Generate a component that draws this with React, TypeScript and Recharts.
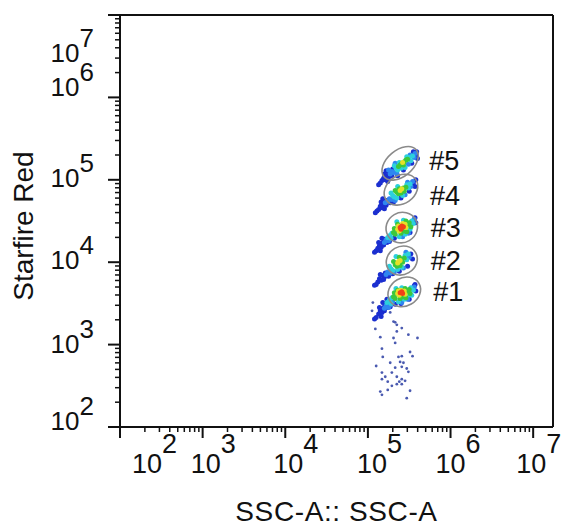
import { ScatterChart, Scatter, XAxis, YAxis, ReferenceLine } from 'recharts';

// all coordinates are log10 of the channel value (10^2 .. 10^7)
type Cell = [number, number, number]; // [x, y, density level 0..5]

const gate1Cells: Cell[] = [
  [5.39, 3.63, 5], [5.41, 3.64, 5], [5.42, 3.62, 5],
  [5.36, 3.62, 4], [5.38, 3.6, 4], [5.44, 3.65, 4], [5.4, 3.66, 4], [5.45, 3.61, 4], [5.37, 3.65, 4],
  [5.31, 3.58, 3], [5.33, 3.56, 3], [5.34, 3.61, 3], [5.47, 3.64, 3], [5.5, 3.67, 3], [5.43, 3.58, 3],
  [5.46, 3.57, 3], [5.32, 3.63, 3], [5.39, 3.56, 3], [5.51, 3.62, 3], [5.36, 3.66, 3], [5.45, 3.68, 3],
  [5.26, 3.54, 2], [5.28, 3.5, 2], [5.29, 3.57, 2], [5.52, 3.69, 2], [5.55, 3.66, 2], [5.37, 3.52, 2],
  [5.44, 3.55, 2], [5.49, 3.6, 2], [5.34, 3.68, 2], [5.23, 3.51, 2], [5.53, 3.6, 2], [5.41, 3.69, 2],
  [5.22, 3.47, 1], [5.25, 3.45, 1], [5.2, 3.44, 1], [5.27, 3.48, 1], [5.3, 3.52, 1], [5.56, 3.7, 1],
  [5.48, 3.55, 1], [5.41, 3.51, 1],
  [5.13, 3.37, 0], [5.15, 3.41, 0], [5.17, 3.39, 0], [5.19, 3.45, 0], [5.21, 3.48, 0], [5.2, 3.41, 0],
  [5.24, 3.45, 0], [5.1, 3.33, 0], [5.14, 3.45, 0], [5.18, 3.51, 0], [5.27, 3.46, 0], [5.33, 3.49, 0],
  [5.56, 3.71, 0], [5.58, 3.65, 0], [5.5, 3.55, 0], [5.4, 3.5, 0], [5.08, 3.31, 0], [5.16, 3.34, 0],
  [5.57, 3.73, 0], [5.23, 3.55, 0],
];

const gate2Cells: Cell[] = [
  [5.37, 4.01, 4], [5.39, 4.02, 4], [5.36, 3.99, 4],
  [5.33, 3.97, 3], [5.35, 3.95, 3], [5.4, 4.04, 3], [5.42, 4.0, 3], [5.38, 4.06, 3], [5.31, 4.01, 3],
  [5.44, 4.05, 3], [5.39, 3.96, 3],
  [5.28, 3.92, 2], [5.3, 3.9, 2], [5.45, 4.08, 2], [5.47, 4.03, 2], [5.34, 4.07, 2], [5.41, 3.94, 2],
  [5.26, 3.95, 2], [5.49, 4.1, 2], [5.36, 3.91, 2],
  [5.24, 3.88, 1], [5.22, 3.85, 1], [5.27, 3.87, 1], [5.5, 4.06, 1], [5.43, 3.93, 1], [5.32, 3.88, 1],
  [5.46, 4.12, 1],
  [5.12, 3.76, 0], [5.14, 3.8, 0], [5.16, 3.78, 0], [5.18, 3.84, 0], [5.2, 3.82, 0], [5.21, 3.87, 0],
  [5.1, 3.73, 0], [5.15, 3.85, 0], [5.25, 3.83, 0], [5.3, 3.86, 0], [5.52, 4.1, 0], [5.54, 4.04, 0],
  [5.48, 3.95, 0], [5.38, 3.89, 0], [5.08, 3.72, 0], [5.19, 3.79, 0],
];

const gate3Cells: Cell[] = [
  [5.39, 4.42, 5], [5.41, 4.44, 5], [5.43, 4.43, 5], [5.4, 4.4, 5],
  [5.36, 4.4, 4], [5.38, 4.38, 4], [5.45, 4.46, 4], [5.42, 4.47, 4], [5.46, 4.42, 4], [5.37, 4.44, 4],
  [5.31, 4.36, 3], [5.33, 4.34, 3], [5.34, 4.39, 3], [5.48, 4.45, 3], [5.5, 4.48, 3], [5.44, 4.38, 3],
  [5.47, 4.37, 3], [5.32, 4.41, 3], [5.4, 4.35, 3], [5.52, 4.43, 3], [5.36, 4.46, 3], [5.46, 4.5, 3],
  [5.26, 4.32, 2], [5.28, 4.29, 2], [5.29, 4.35, 2], [5.53, 4.5, 2], [5.55, 4.47, 2], [5.38, 4.31, 2],
  [5.45, 4.34, 2], [5.51, 4.4, 2], [5.35, 4.49, 2], [5.24, 4.3, 2], [5.43, 4.51, 2],
  [5.22, 4.27, 1], [5.2, 4.24, 1], [5.25, 4.26, 1], [5.27, 4.31, 1], [5.56, 4.52, 1], [5.49, 4.35, 1],
  [5.42, 4.31, 1],
  [5.12, 4.17, 0], [5.14, 4.2, 0], [5.16, 4.18, 0], [5.18, 4.24, 0], [5.2, 4.28, 0], [5.19, 4.21, 0],
  [5.23, 4.24, 0], [5.1, 4.14, 0], [5.13, 4.24, 0], [5.17, 4.29, 0], [5.26, 4.25, 0], [5.32, 4.29, 0],
  [5.57, 4.54, 0], [5.58, 4.48, 0], [5.51, 4.36, 0], [5.08, 4.12, 0], [5.15, 4.14, 0],
];

const gate4Cells: Cell[] = [
  [5.39, 4.87, 4], [5.41, 4.89, 4],
  [5.35, 4.85, 3], [5.37, 4.83, 3], [5.4, 4.84, 3], [5.43, 4.9, 3], [5.38, 4.89, 3], [5.44, 4.86, 3],
  [5.33, 4.87, 3], [5.46, 4.91, 3],
  [5.3, 4.81, 2], [5.32, 4.79, 2], [5.47, 4.94, 2], [5.49, 4.9, 2], [5.36, 4.92, 2], [5.42, 4.81, 2],
  [5.28, 4.84, 2], [5.51, 4.95, 2], [5.35, 4.78, 2],
  [5.26, 4.77, 1], [5.24, 4.74, 1], [5.29, 4.76, 1], [5.52, 4.92, 1], [5.45, 4.82, 1], [5.33, 4.75, 1],
  [5.48, 4.97, 1], [5.54, 4.98, 1], [5.21, 4.72, 1],
  [5.13, 4.64, 0], [5.15, 4.68, 0], [5.17, 4.66, 0], [5.19, 4.71, 0], [5.22, 4.69, 0], [5.23, 4.75, 0],
  [5.11, 4.62, 0], [5.16, 4.73, 0], [5.27, 4.72, 0], [5.31, 4.73, 0], [5.55, 4.96, 0], [5.57, 4.92, 0],
  [5.5, 4.86, 0], [5.4, 4.78, 0], [5.09, 4.6, 0], [5.2, 4.65, 0], [5.18, 4.77, 0], [5.58, 5.0, 0],
];

const gate5Cells: Cell[] = [
  [5.42, 5.21, 4],
  [5.39, 5.18, 3], [5.41, 5.2, 3], [5.44, 5.22, 3], [5.37, 5.16, 3], [5.46, 5.24, 3], [5.43, 5.18, 3],
  [5.48, 5.25, 3],
  [5.34, 5.14, 2], [5.36, 5.12, 2], [5.5, 5.27, 2], [5.52, 5.23, 2], [5.38, 5.21, 2], [5.45, 5.15, 2],
  [5.32, 5.17, 2], [5.54, 5.29, 2], [5.4, 5.14, 2], [5.47, 5.28, 2],
  [5.29, 5.1, 1], [5.27, 5.07, 1], [5.31, 5.09, 1], [5.56, 5.27, 1], [5.49, 5.19, 1], [5.35, 5.08, 1],
  [5.51, 5.3, 1], [5.57, 5.32, 1], [5.25, 5.12, 1], [5.33, 5.2, 1],
  [5.17, 4.99, 0], [5.19, 5.02, 0], [5.21, 5.0, 0], [5.23, 5.05, 0], [5.25, 5.03, 0], [5.26, 5.09, 0],
  [5.15, 4.96, 0], [5.2, 5.07, 0], [5.29, 5.05, 0], [5.3, 5.13, 0], [5.58, 5.3, 0], [5.6, 5.26, 0],
  [5.53, 5.2, 0], [5.43, 5.12, 0], [5.13, 4.94, 0], [5.24, 4.98, 0], [5.22, 5.11, 0], [5.59, 5.34, 0],
  [5.55, 5.34, 0], [5.36, 5.05, 0],
];

// sparse events below the gated populations
const debrisCells: [number, number][] = [
  [5.12, 3.76], [5.05, 3.41], [5.06, 3.51], [5.21, 3.45], [5.27, 3.39], [5.31, 3.28], [5.35, 3.24],
  [5.41, 3.2], [5.35, 3.16], [5.15, 3.09],
  [5.33, 3.27], [5.09, 3.19], [5.31, 3.08], [5.49, 3.12], [5.6, 3.08], [5.33, 3.02], [5.17, 2.95],
  [5.51, 2.91], [5.18, 2.85], [5.37, 2.85], [5.41, 2.86], [5.54, 2.86], [5.1, 2.74], [5.27, 2.78],
  [5.39, 2.79], [5.43, 2.78], [5.41, 2.73], [5.33, 2.72], [5.47, 2.71], [5.49, 2.67], [5.17, 2.66],
  [5.29, 2.66], [5.21, 2.61], [5.35, 2.61], [5.41, 2.58], [5.38, 2.55], [5.45, 2.56], [5.24, 2.55],
  [5.35, 2.52], [5.17, 2.58], [5.41, 2.52], [5.29, 2.5], [5.24, 2.45], [5.51, 2.44], [5.15, 2.43],
  [5.17, 2.39], [5.47, 2.35],
];

const gateNames = ['#1', '#2', '#3', '#4', '#5'];
const gateCentersX = [5.44, 5.41, 5.41, 5.4, 5.39];
const gateCentersY = [3.64, 4.02, 4.42, 4.88, 5.2];

const xDecades = [2, 3, 4, 5, 6, 7];
const yDecades = [2, 3, 4, 5, 6, 7];
const xTitle = 'SSC-A:: SSC-A';
const yTitle = 'Starfire Red';

const FONT = '"Liberation Sans", Arial, sans-serif';
const LEVEL_COLORS = ['#1b2fd0', '#2f86f0', '#2cd0dc', '#3cc83c', '#e6e028', '#f04018'];

// ellipse geometry and label offset (px) for each gate
const GATE_STYLE: Record<string, { rx: number; ry: number; angle: number; labelDy: number }> = {
  '#1': { rx: 17, ry: 14, angle: -30, labelDy: 14 },
  '#2': { rx: 16, ry: 14, angle: -30, labelDy: 14 },
  '#3': { rx: 16, ry: 15, angle: -30, labelDy: 14 },
  '#4': { rx: 18, ry: 14, angle: -35, labelDy: 20 },
  '#5': { rx: 21, ry: 13, angle: -40, labelDy: 12 },
};

const X_LABEL_DX: Record<number, number> = { 2: 12, 3: -12, 4: -12, 5: -11, 6: -15, 7: -17 };
const Y_LABEL_DY: Record<number, number> = { 2: 3, 3: 8, 4: 7, 5: 7, 6: -1, 7: 47 };

const logMinors = (decades: number[], max: number) => {
  const out: number[] = [];
  decades.forEach((d) => {
    for (let k = 2; k <= 9; k++) {
      const v = d + Math.log10(k);
      if (v < max) out.push(v);
    }
  });
  return out;
};

const X_MAX = 7.24;
const xTicks = [...xDecades, ...logMinors(xDecades, X_MAX)];
const yTicks = [...yDecades, ...logMinors(yDecades, 7)];

const allCells = [...gate1Cells, ...gate2Cells, ...gate3Cells, ...gate4Cells, ...gate5Cells];
const levelSeries = LEVEL_COLORS.map((_, lvl) =>
  allCells.filter((c) => c[2] === lvl).map(([x, y]) => ({ x, y }))
);
const debrisData = debrisCells.map(([x, y]) => ({ x, y }));
const gateData = gateNames.map((name, i) => ({ name, x: gateCentersX[i], y: gateCentersY[i] }));

const isMajor = (v: number) => Math.abs(v - Math.round(v)) < 1e-6;

function XTick({ x, y, payload }: any) {
  const v = payload.value;
  if (!isMajor(v)) {
    return <line x1={x} x2={x} y1={y} y2={y + 5} stroke="#111" strokeWidth={1.5} />;
  }
  const d = Math.round(v);
  return (
    <g>
      <line x1={x} x2={x} y1={y - 1} y2={y + 11} stroke="#111" strokeWidth={2} />
      <text x={x + X_LABEL_DX[d]} y={y + 46} fontSize={27} fontFamily={FONT} fill="#111">
        <tspan>10</tspan>
        <tspan dy={-20}>{d}</tspan>
      </text>
    </g>
  );
}

function YTick({ x, y, payload }: any) {
  const v = payload.value;
  if (!isMajor(v)) {
    return <line x1={x - 5} x2={x} y1={y} y2={y} stroke="#111" strokeWidth={1.5} />;
  }
  const d = Math.round(v);
  return (
    <g>
      <line x1={x - 12} x2={x + 1} y1={y} y2={y} stroke="#111" strokeWidth={2} />
      <text x={x - 26} y={y + Y_LABEL_DY[d]} fontSize={26} fontFamily={FONT} fill="#111" textAnchor="end">
        <tspan>10</tspan>
        <tspan dy={-15}>{d}</tspan>
      </text>
    </g>
  );
}

function XTitle({ viewBox }: any) {
  return (
    <text x={viewBox.x + viewBox.width / 2} y={viewBox.y + 94} textAnchor="middle" fontSize={28} letterSpacing={0.6} fontFamily={FONT} fill="#111">
      {xTitle}
    </text>
  );
}

function YTitle({ viewBox }: any) {
  const cx = 33;
  const cy = viewBox.y + viewBox.height / 2 + 5;
  return (
    <text x={cx} y={cy} transform={`rotate(-90 ${cx} ${cy})`} textAnchor="middle" fontSize={28} fontFamily={FONT} fill="#111">
      {yTitle}
    </text>
  );
}

function GateShape({ cx, cy, payload }: any) {
  const s = GATE_STYLE[payload.name];
  return (
    <g>
      <ellipse cx={cx} cy={cy} rx={s.rx} ry={s.ry} transform={`rotate(${s.angle} ${cx} ${cy})`} fill="none" stroke="#8a8a8a" strokeWidth={1.6} />
      <text x={cx + 29} y={cy + s.labelDy - 5} fontSize={27} fontFamily={FONT} fill="#111">
        {payload.name}
      </text>
    </g>
  );
}

export default function App() {
  return (
    <div style={{ position: 'absolute', left: 0, top: 0, background: '#fff' }}>
      <ScatterChart width={563} height={526} margin={{ top: 15, right: 10, bottom: 0, left: 0 }}>
        <XAxis
          type="number"
          dataKey="x"
          domain={[2, X_MAX]}
          ticks={xTicks}
          interval={0}
          height={99}
          tickSize={0}
          tickMargin={0}
          tickLine={false}
          axisLine={{ stroke: '#111', strokeWidth: 2 }}
          tick={<XTick />}
          label={<XTitle />}
          allowDataOverflow
        />
        <YAxis
          type="number"
          dataKey="y"
          domain={[2, 7]}
          ticks={yTicks}
          interval={0}
          width={120}
          tickSize={0}
          tickMargin={0}
          tickLine={false}
          axisLine={{ stroke: '#111', strokeWidth: 2 }}
          tick={<YTick />}
          label={<YTitle />}
          allowDataOverflow
        />
        <ReferenceLine y={7} stroke="#111" strokeWidth={2} />
        <ReferenceLine x={X_MAX} stroke="#111" strokeWidth={2} />
        <Scatter
          data={debrisData}
          isAnimationActive={false}
          shape={(p: any) => <circle cx={p.cx} cy={p.cy} r={1.4} fill="#4a5ab0" />}
        />
        {levelSeries.map((data, lvl) => (
          <Scatter
            key={lvl}
            data={data}
            isAnimationActive={false}
            shape={(p: any) => <circle cx={p.cx} cy={p.cy} r={2.5} fill={LEVEL_COLORS[lvl]} />}
          />
        ))}
        <Scatter data={gateData} isAnimationActive={false} shape={<GateShape />} />
      </ScatterChart>
    </div>
  );
}
